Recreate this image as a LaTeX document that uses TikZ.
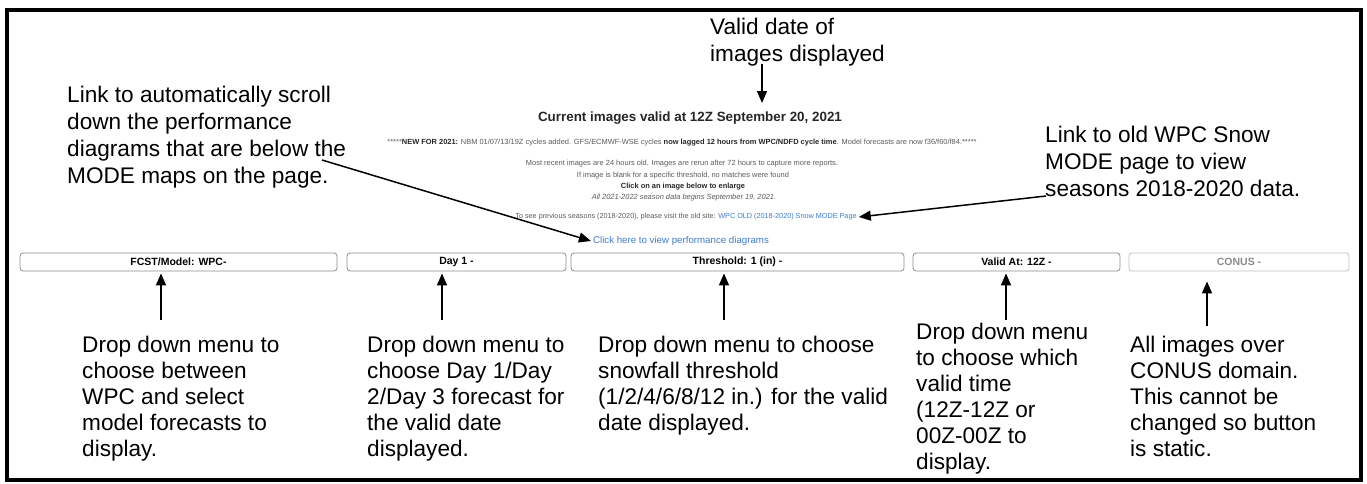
\documentclass[tikz,border=0pt]{standalone}
\usepackage{fontspec}
\setmainfont{Liberation Sans}
\usetikzlibrary{arrows.meta}
\definecolor{linkblue}{HTML}{3D7CC9}
\definecolor{webgray}{HTML}{5A5A5A}
\definecolor{btngray}{HTML}{8C8C8C}
\definecolor{conusgray}{HTML}{8A8A8A}
\tikzset{
  ann/.style={anchor=north west, inner sep=0pt, align=left, font=\fontsize{22.6}{26}\selectfont},
  annt/.style={ann, font=\fontsize{22.6}{27}\selectfont},
  btn/.style={draw=btngray, rounded corners=3pt, line width=0.8pt, inner sep=0pt, minimum height=18pt, font=\fontsize{10.5}{12}\selectfont\bfseries},
  arr/.style={line width=1.5pt, -{Triangle[length=12pt,width=10pt]}},
  web/.style={inner sep=0pt, font=\fontsize{7.45}{8}\selectfont, text=webgray},
}
\begin{document}
\begin{tikzpicture}[x=1pt,y=-1pt]
\useasboundingbox (0,0) rectangle (1367,483);
\draw[line width=4pt] (7,10) rectangle (1361,480);

% web page texts
\node[inner sep=0pt, font=\fontsize{13.4}{15}\selectfont\bfseries, text=black!85] (title) at (690,118) {Current images valid at 12Z September 20, 2021};
\node[web] (news) at (682,143) {*****\textbf{\color{black!85}NEW FOR 2021:} NBM 01/07/13/19Z cycles added. GFS/ECMWF-WSE cycles \textbf{\color{black!85}now lagged 12 hours from WPC/NDFD cycle time}. Model forecasts are now f36/f60/f84.*****};
\node[web] (m1) at (682,164) {Most recent images are 24 hours old. Images are rerun after 72 hours to capture more reports.};
\node[web] (m2) at (683,175.5) {If image is blank for a specific threshold, no matches were found};
\node[web, font=\fontsize{7.45}{8}\selectfont\bfseries, text=black!85] (m3) at (683,186.5) {Click on an image below to enlarge};
\node[web, font=\fontsize{7.45}{8}\selectfont\itshape] (m4) at (684,197.5) {All 2021-2022 season data begins September 19, 2021.};
\node[web, font=\fontsize{7.25}{8}\selectfont] (m5) at (686,217) {To see previous seasons (2018-2020), please visit the old site: \textcolor{linkblue}{WPC OLD (2018-2020) Snow MODE Page}};
\node[inner sep=0pt, font=\fontsize{9.7}{11}\selectfont, text=linkblue] (perf) at (681,241) {Click here to view performance diagrams};

% buttons
\node[btn, minimum width=317pt] (b1) at (178.5,262) {FCST/Model: WPC-};
\node[btn, minimum width=219pt] (b2) at (456.5,262) {Day 1 -};
\node[btn, minimum width=333pt] (b3) at (737.5,262) {Threshold: 1 (in) -};
\node[btn, minimum width=207pt] (b4) at (1016.5,262) {Valid At: 12Z -};
\node[btn, minimum width=220pt, draw=btngray!55, text=conusgray] (b5) at (1239,262) {CONUS -};

% annotations
\node[annt] (tt) at (710,18) {Valid date of\\images displayed};
\node[annt] (lt) at (67,86) {Link to automatically scroll\\down the performance\\diagrams that are below the\\MODE maps on the page.};
\node[annt] (rt) at (1045,126) {Link to old WPC Snow\\MODE page to view\\seasons 2018-2020 data.};
\node[ann] (d1) at (82,336) {Drop down menu to\\choose between\\WPC and select\\model forecasts to\\display.};
\node[ann] (d2) at (367,336) {Drop down menu to\\choose Day 1/Day\\2/Day 3 forecast for\\the valid date\\displayed.};
\node[ann] (d3) at (598,336) {Drop down menu to choose\\snowfall threshold\\(1/2/4/6/8/12 in.) for the valid\\date displayed.};
\node[ann] (d4) at (916,323) {Drop down menu\\to choose which\\valid time\\(12Z-12Z or\\00Z-00Z to\\display.};
\node[ann] (d5) at (1130,336) {All images over\\CONUS domain.\\This cannot be\\changed so button\\is static.};

% arrows
\coordinate (ta) at (762,64);
\draw[arr] (ta) -- (ta |- 0,103);
\coordinate (la) at (322,160);
\draw[arr] (la) -- ([xshift=-2pt]perf.west);
\coordinate (ra) at (1046,196);
\draw[arr] (ra) -- ([xshift=2pt]m5.east);
\coordinate (a1) at (161,320);
\coordinate (a2) at (442,320);
\coordinate (a3) at (724,320);
\coordinate (a4) at (1006,320);
\coordinate (a5) at (1207,326);
\draw[arr] (a1) -- ([yshift=-2pt]a1 |- b1.south);
\draw[arr] (a2) -- ([yshift=-2pt]a2 |- b2.south);
\draw[arr] (a3) -- ([yshift=-2pt]a3 |- b3.south);
\draw[arr] (a4) -- ([yshift=-2pt]a4 |- b4.south);
\draw[arr] (a5) -- ([yshift=-10pt]a5 |- b5.south);
\end{tikzpicture}
\end{document}
